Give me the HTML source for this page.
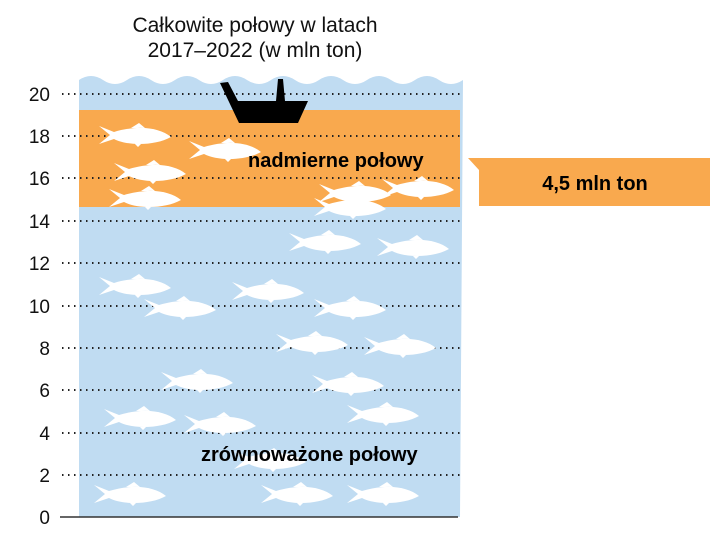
<!DOCTYPE html>
<html><head><meta charset="utf-8"><style>
body{margin:0;background:#fff;width:727px;height:543px;overflow:hidden;font-family:"Liberation Sans",sans-serif}
</style></head><body>
<svg width="727" height="543" viewBox="0 0 727 543" xmlns="http://www.w3.org/2000/svg">
<defs>
<g id="f"><path d="M-36,-9 L-25,0 L-36,9 L-21,4 C-8,11 20,11 36,2 C24,-8 2,-10 -21,-3 Z M-4,-7 L4,-12 L10,-7 Z M-2,7 L3,12 L8,7 Z" fill="#fff"/></g>
</defs>
<text x="255" y="32" font-size="21" text-anchor="middle" fill="#111">Całkowite połowy w latach</text>
<text x="255" y="57" font-size="21" text-anchor="middle" fill="#111">2017–2022 (w mln ton)</text>
<path d="M79,80 Q91,72 103,80 T127,80 T151,80 T175,80 T199,80 T223,80 T247,80 T271,80 T295,80 T319,80 T343,80 T367,80 T391,80 T415,80 T439,80 T463,80 L460,517 L79,517 Z" fill="#c0dcf2"/>
<rect x="79" y="110" width="381" height="97" fill="#f9a94e"/>
<g stroke="#222" stroke-width="2" stroke-dasharray="1.5 4.5">
<line x1="62" y1="94" x2="460" y2="94"/><line x1="62" y1="136" x2="460" y2="136"/><line x1="62" y1="178" x2="460" y2="178"/><line x1="62" y1="221" x2="460" y2="221"/><line x1="62" y1="263" x2="460" y2="263"/><line x1="62" y1="306" x2="460" y2="306"/><line x1="62" y1="348" x2="460" y2="348"/><line x1="62" y1="390" x2="460" y2="390"/><line x1="62" y1="433" x2="460" y2="433"/><line x1="62" y1="475" x2="460" y2="475"/>
</g>
<g fill="#fff">
<use href="#f" transform="translate(135,135)"/><use href="#f" transform="translate(225,150)"/><use href="#f" transform="translate(150,172)"/><use href="#f" transform="translate(145,198)"/><use href="#f" transform="translate(355,193)"/><use href="#f" transform="translate(418,188)"/><use href="#f" transform="translate(350,207)"/>
<use href="#f" transform="translate(325,242)"/><use href="#f" transform="translate(413,247)"/><use href="#f" transform="translate(135,286)"/><use href="#f" transform="translate(268,291)"/><use href="#f" transform="translate(180,308)"/><use href="#f" transform="translate(350,308)"/><use href="#f" transform="translate(312,343)"/><use href="#f" transform="translate(400,346)"/><use href="#f" transform="translate(197,381)"/><use href="#f" transform="translate(348,384)"/><use href="#f" transform="translate(140,418)"/><use href="#f" transform="translate(220,424)"/><use href="#f" transform="translate(383,414)"/><use href="#f" transform="translate(270,460)"/><use href="#f" transform="translate(130,494)"/><use href="#f" transform="translate(297,494)"/><use href="#f" transform="translate(383,494)"/>
</g>
<path d="M220,83 L228,82 L238,101 L276,101 L278,79 L283,79 L285,101 L308,101 L298,123 L239,123 Z" fill="#000"/>
<line x1="60" y1="517" x2="458" y2="517" stroke="#333" stroke-width="1.5"/>
<g font-size="19" text-anchor="end" fill="#111">
<text x="50" y="101">20</text><text x="50" y="143">18</text><text x="50" y="185">16</text><text x="50" y="228">14</text><text x="50" y="270">12</text><text x="50" y="313">10</text><text x="50" y="355">8</text><text x="50" y="397">6</text><text x="50" y="440">4</text><text x="50" y="482">2</text><text x="50" y="524">0</text>
</g>
<text x="248" y="167" font-size="20" font-weight="bold" fill="#000">nadmierne połowy</text>
<text x="201" y="461" font-size="20" font-weight="bold" fill="#000">zrównoważone połowy</text>
<path d="M468,158 L710,158 L710,206 L479,206 L479,170 Z" fill="#f9a94e"/>
<text x="595" y="190" font-size="20" font-weight="bold" text-anchor="middle" fill="#000">4,5 mln ton</text>
</svg>
</body></html>
